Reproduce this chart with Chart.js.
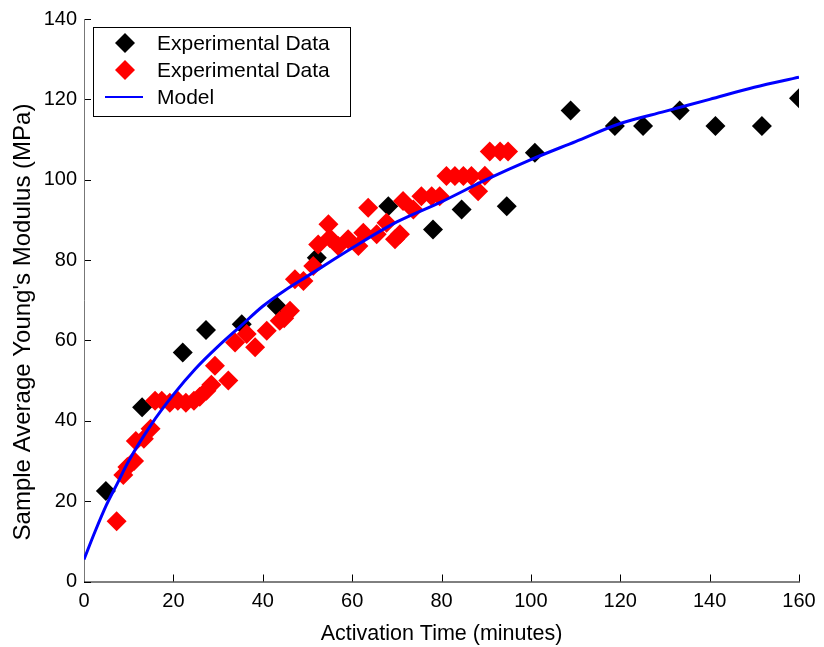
<!DOCTYPE html>
<html>
<head>
<meta charset="utf-8">
<script src="https://cdn.jsdelivr.net/npm/chart.js@4.4.1/dist/chart.umd.min.js"></script>
<style>
  html, body { margin: 0; padding: 0; background: #fff; }
  #wrap { width: 824px; height: 647px; }
</style>
</head>
<body>
<div id="wrap"><canvas id="modulusChart" width="824" height="647"></canvas></div>
<script>
// black diamonds: first batch of measurements
const blackTime = [4.9, 13.0, 22.1, 27.3, 35.3, 43.1, 52.1, 68.1, 78.1, 84.5, 94.6, 100.9, 108.9, 118.8, 125.1, 133.3, 141.3, 151.7, 160];
const blackModulus = [22.5, 43.4, 57, 62.6, 64, 68.6, 80.6, 93.4, 87.6, 92.6, 93.4, 106.7, 117.2, 113.4, 113.4, 117.2, 113.4, 113.4, 120.3];

// red diamonds: second batch
const redTime = [7.3, 8.8, 9.7, 11.2, 11.6, 13.4, 14.9, 15.9, 17.4, 19.2, 21, 22.8, 24.6, 25.9, 27.4, 28.5, 29.3, 32.3,
  33.8, 36.4, 38.3, 40.9, 43.8, 44.8, 46.1, 47.2, 49.1, 51.3, 52.4, 54.7, 55, 56.9, 59.1, 61.4, 62.5, 63.6, 65.5, 67.7,
  69.6, 70.7, 71.4, 73.7, 75.5, 77.8, 79.6, 81.1, 83, 84.9, 86.7, 88.2, 89.7, 90.8, 93.1, 94.9];
const redModulus = [15, 26.5, 28.5, 30, 35, 35.5, 38, 45, 45, 44.5, 45, 44.5, 45, 46, 47.5, 49, 53.7, 50,
  59.5, 61.6, 58.3, 62.4, 64.9, 65.5, 67.4, 75.2, 74.8, 78.5, 83.9, 88.9, 85.5, 83.5, 85.2, 83.5, 86.8, 93, 86.4, 89.3,
  85.2, 86.4, 94.7, 92.6, 95.9, 95.9, 95.9, 100.9, 100.9, 100.9, 100.9, 97.1, 101, 107, 107, 107];

// model curve
const modelTime = [0, 2.5, 5, 7.5, 10, 15, 20, 25, 30, 35, 40, 45, 50, 55, 60, 70, 80, 90, 100, 110, 120, 130, 140, 150, 160];
const modelModulus = [5.5, 12.5, 19, 24.5, 30, 39, 46.5, 53, 58.5, 63.5, 68.5, 72.5, 76, 79.5, 83, 89.5, 94.5, 100, 105, 109.5, 114, 117, 120, 123, 125.5];

const xTicks = [0, 20, 40, 60, 80, 100, 120, 140, 160];
const yTicks = [0, 20, 40, 60, 80, 100, 120, 140];
const yTitle = "Sample Average Young's Modulus (MPa)";

const FONT = "'Liberation Sans', Arial, Helvetica, sans-serif";

function toPoints(xs, ys) {
  return xs.map((x, i) => ({ x: x, y: ys[i] }));
}

// inward ticks and axis lines, like a MATLAB axes with box off
const axesPlugin = {
  id: 'axesTicks',
  beforeDatasetsDraw(chart) {
    const ctx = chart.ctx;
    const area = chart.chartArea;
    const xs = chart.scales.x, ys = chart.scales.y;
    const len = 7;
    ctx.save();
    ctx.lineWidth = 1;
    ctx.strokeStyle = '#000';
    ctx.beginPath();
    xTicks.forEach(v => {
      const px = Math.round(xs.getPixelForValue(v)) + 0.5;
      ctx.moveTo(px, area.bottom);
      ctx.lineTo(px, area.bottom - len);
    });
    yTicks.forEach(v => {
      const py = Math.round(ys.getPixelForValue(v)) + 0.5;
      ctx.moveTo(area.left, py);
      ctx.lineTo(area.left + len, py);
    });
    ctx.stroke();
    // axis lines
    ctx.strokeStyle = '#777';
    ctx.beginPath();
    ctx.moveTo(area.left + 0.5, area.top);
    ctx.lineTo(area.left + 0.5, area.bottom);
    ctx.stroke();
    ctx.strokeStyle = '#000';
    ctx.beginPath();
    ctx.moveTo(area.left, area.bottom + 0.5);
    ctx.lineTo(area.right + 1, area.bottom + 0.5);
    ctx.stroke();

    // y axis label, rotated
    ctx.fillStyle = '#000';
    ctx.font = '24px ' + FONT;
    ctx.textAlign = 'center';
    ctx.textBaseline = 'middle';
    ctx.translate(23, 322);
    ctx.rotate(-Math.PI / 2);
    ctx.fillText(yTitle, 0, 0);
    ctx.restore();
  }
};

// boxed legend in the top-left corner of the plot
const legendBox = {
  id: 'legendBox',
  afterDraw(chart) {
    const ctx = chart.ctx;
    const left = 93, top = 27, w = 257, h = 89;
    ctx.save();
    ctx.fillStyle = '#fff';
    ctx.fillRect(left, top, w, h);
    ctx.strokeStyle = '#000';
    ctx.lineWidth = 1;
    ctx.strokeRect(left + 0.5, top + 0.5, w, h);
    const rows = [43, 70, 97];
    ctx.font = '21px ' + FONT;
    ctx.textBaseline = 'middle';
    chart.data.datasets.forEach((ds, i) => {
      const y = rows[i];
      if (ds.showLine) {
        ctx.strokeStyle = ds.borderColor;
        ctx.lineWidth = 2;
        ctx.beginPath();
        ctx.moveTo(105, y);
        ctx.lineTo(143, y);
        ctx.stroke();
      } else {
        ctx.fillStyle = ds.backgroundColor;
        ctx.beginPath();
        ctx.moveTo(125, y - 10);
        ctx.lineTo(135, y);
        ctx.lineTo(125, y + 10);
        ctx.lineTo(115, y);
        ctx.closePath();
        ctx.fill();
      }
      ctx.fillStyle = '#000';
      ctx.fillText(ds.label, 157, y + 1);
    });
    ctx.restore();
  }
};

const chart = new Chart(document.getElementById('modulusChart'), {
  type: 'scatter',
  data: {
    datasets: [
      {
        label: 'Experimental Data',
        data: toPoints(blackTime, blackModulus),
        pointStyle: 'rectRot',
        pointRadius: 10,
        backgroundColor: '#000000',
        borderWidth: 0,
        order: 3
      },
      {
        label: 'Experimental Data',
        data: toPoints(redTime, redModulus),
        pointStyle: 'rectRot',
        pointRadius: 10,
        backgroundColor: '#ff0000',
        borderWidth: 0,
        order: 2
      },
      {
        label: 'Model',
        data: toPoints(modelTime, modelModulus),
        showLine: true,
        pointRadius: 0,
        borderColor: '#0000ff',
        borderWidth: 3,
        cubicInterpolationMode: 'monotone',
        order: 1
      }
    ]
  },
  options: {
    responsive: false,
    animation: false,
    layout: { padding: { top: 17, right: 25, left: 0, bottom: 0 } },
    plugins: { legend: { display: false }, tooltip: { enabled: false } },
    scales: {
      x: {
        type: 'linear',
        min: 0,
        max: 160,
        afterBuildTicks: s => { s.ticks = xTicks.map(v => ({ value: v })); },
        afterFit: s => { s.height = 65.5; },
        grid: { display: false, drawTicks: false },
        border: { display: false },
        ticks: { color: '#000', font: { family: FONT, size: 20 }, padding: 8, maxRotation: 0 },
        title: { display: true, text: 'Activation Time (minutes)', color: '#000', font: { family: FONT, size: 21.5 }, padding: { top: 3, bottom: 0 } }
      },
      y: {
        min: 0,
        max: 140,
        afterBuildTicks: s => { s.ticks = yTicks.map(v => ({ value: v })); },
        afterFit: s => { s.width = 84; },
        grid: { display: false, drawTicks: false },
        border: { display: false },
        ticks: { color: '#000', font: { family: FONT, size: 20 }, padding: 7 }
      }
    }
  },
  plugins: [axesPlugin, legendBox]
});
</script>
</body>
</html>
